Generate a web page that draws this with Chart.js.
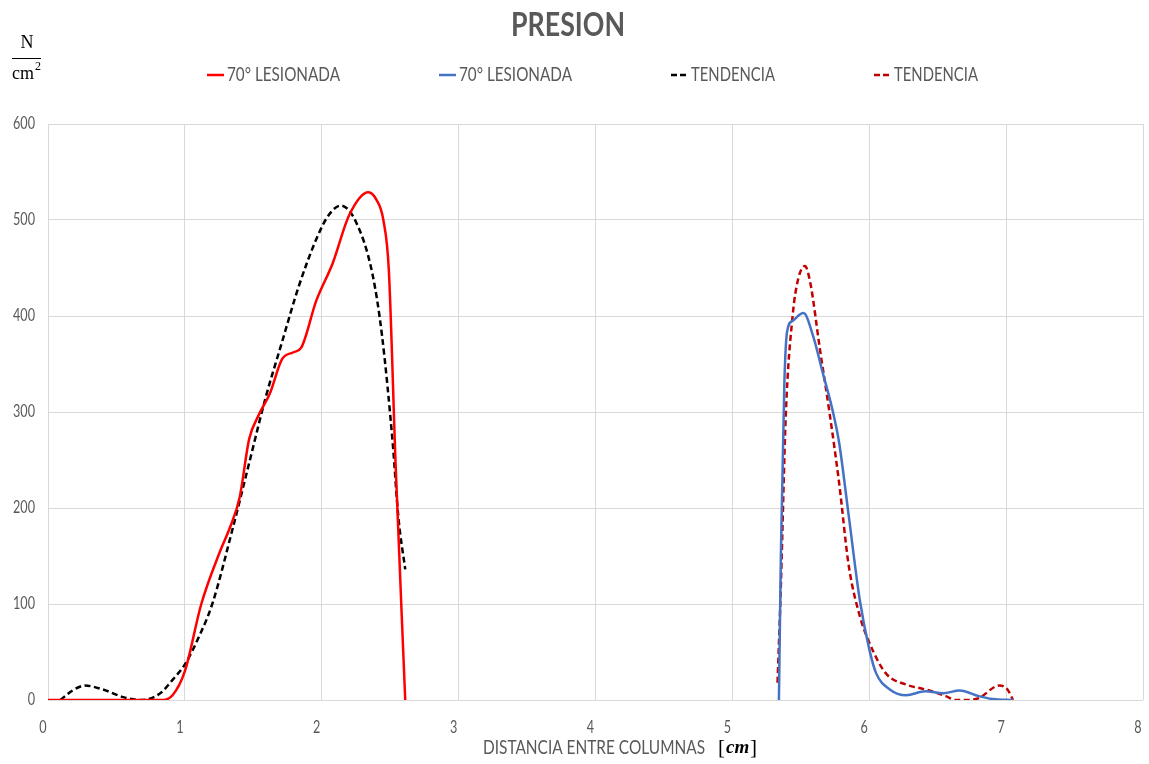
<!DOCTYPE html>
<html>
<head>
<meta charset="utf-8">
<script src="https://cdn.jsdelivr.net/npm/chart.js@4.4.1/dist/chart.umd.min.js"></script>
<style>
body{margin:0;background:#fff;overflow:hidden;}
canvas{display:block;}
</style>
</head>
<body>
<canvas id="graf" width="1149" height="764"></canvas>
<script>
// lesionada 70 - tramo izquierdo
var xLesion1 = [0, 0.4, 0.82, 0.91, 1.0, 1.12, 1.26, 1.33, 1.40, 1.47, 1.54, 1.62, 1.71, 1.79, 1.85, 1.96, 2.08, 2.20, 2.34, 2.40, 2.45, 2.49, 2.54, 2.61];
var yLesion1 = [0, 0, 0, 5, 30, 100, 156, 180, 211, 272, 297, 319, 355, 362, 367, 416, 455, 505, 529, 521, 500, 448, 244, 0];
// tendencia (negra)
var xTend1 = [0.09, 0.18, 0.27, 0.40, 0.55, 0.68, 0.82, 0.91, 1.0, 1.1, 1.2, 1.35, 1.47, 1.59, 1.71, 1.83, 1.96, 2.05, 2.14, 2.25, 2.37, 2.44, 2.52, 2.56, 2.61];
var yTend1 = [0, 10, 15, 11, 3, 0, 7, 21, 37, 65, 100, 179, 247, 315, 373, 430, 480, 505, 515, 498, 444, 380, 265, 190, 136];
// lesionada 70 - tramo derecho (azul)
var xLesion2 = [5.34, 5.355, 5.38, 5.40, 5.44, 5.52, 5.59, 5.66, 5.73, 5.78, 5.85, 5.93, 6.0, 6.05, 6.15, 6.27, 6.41, 6.54, 6.66, 6.80, 6.90, 7.05];
var yLesion2 = [0, 157, 331, 384, 395, 403, 379, 341, 303, 268, 192, 105, 53, 28, 11, 5, 9, 7, 10, 4, 1, 0];
// tendencia (roja punteada)
var xTend2 = [5.33, 5.355, 5.39, 5.44, 5.48, 5.53, 5.57, 5.64, 5.71, 5.78, 5.85, 5.93, 6.0, 6.12, 6.27, 6.41, 6.56, 6.63, 6.72, 6.80, 6.95, 7.01, 7.05];
var yTend2 = [18, 122, 296, 400, 438, 452, 434, 365, 299, 226, 140, 88, 60, 28, 16, 11, 4, 0, 0, 2, 15, 11, 0];

var nombres = ["70° LESIONADA", "70° LESIONADA", "TENDENCIA", "TENDENCIA"];
var colores = ["#ff0000", "#4472c4", "#000000", "#c00000"];
var yTicks = [0, 100, 200, 300, 400, 500, 600];
var xTicks = [0, 1, 2, 3, 4, 5, 6, 7, 8];

var fuente = "Lato, 'Liberation Sans', sans-serif";
var serif = "'Liberation Serif', 'DejaVu Serif', serif";
var gris = "#595959";

function puntos(xs, ys){
    var out = [];
    for(var i=0;i<xs.length;i++){
        out.push({x:xs[i], y:ys[i]});
    }
    return out;
}

function serie(idx, xs, ys, dash){
    return {
        label: nombres[idx],
        data: puntos(xs, ys),
        borderColor: colores[idx],
        backgroundColor: colores[idx],
        borderWidth: 2.5,
        borderDash: dash,
        showLine: true,
        pointRadius: 0,
        cubicInterpolationMode: 'monotone',
        fill: false
    };
}

// texto estrechado horizontalmente (k = factor de ancho)
function texto(ctx, txt, x, y, k, align){
    ctx.save();
    ctx.translate(x, y);
    ctx.scale(k, 1);
    ctx.textAlign = align;
    ctx.fillText(txt, 0, 0);
    ctx.restore();
}

function factor(ctx, txt, ancho){
    return ancho / ctx.measureText(txt).width;
}

var textos = {
    id: 'textos',
    afterDraw: function(chart){
        var ctx = chart.ctx;
        ctx.save();
        ctx.textBaseline = "middle";

        // titulo
        ctx.fillStyle = gris;
        ctx.font = "bold 33px " + fuente;
        texto(ctx, "PRESION", 568, 25, factor(ctx, "PRESION", 114), "center");

        // leyenda
        ctx.font = "20px " + fuente;
        var anchoLey = { "70° LESIONADA": 113, "TENDENCIA": 84 };
        var x = 207;
        var dashes = [[], [], [6,3], [6,3]];
        chart.data.datasets.forEach(function(ds, i){
            ctx.strokeStyle = colores[i];
            ctx.lineWidth = 2.5;
            ctx.setLineDash(dashes[i]);
            ctx.beginPath();
            ctx.moveTo(x, 75);
            ctx.lineTo(x + 17, 75);
            ctx.stroke();
            ctx.setLineDash([]);
            ctx.fillStyle = gris;
            var w = anchoLey[ds.label];
            texto(ctx, ds.label, x + 20, 75, factor(ctx, ds.label, w), "left");
            x += 20 + w + 99;
        });

        // etiquetas de ejes
        var sx = chart.scales.x, sy = chart.scales.y;
        ctx.font = "17px " + fuente;
        var kTick = factor(ctx, "600", 22);
        yTicks.forEach(function(v){
            texto(ctx, String(v), 35, sy.getPixelForValue(v), kTick, "right");
        });
        xTicks.forEach(function(v){
            texto(ctx, String(v), sx.getPixelForValue(v) - 5, 728, kTick, "center");
        });

        // unidades eje y
        ctx.fillStyle = "#000";
        ctx.font = "18px " + serif;
        ctx.textAlign = "center";
        ctx.fillText("N", 27, 43);
        ctx.strokeStyle = "#000";
        ctx.lineWidth = 1;
        ctx.beginPath();
        ctx.moveTo(12, 58.5);
        ctx.lineTo(41, 58.5);
        ctx.stroke();
        ctx.textAlign = "left";
        ctx.fillText("cm", 12, 74);
        var wcm = ctx.measureText("cm").width;
        ctx.font = "12px " + serif;
        ctx.fillText("2", 13 + wcm, 67);

        // titulo eje x
        ctx.fillStyle = gris;
        ctx.font = "20px " + fuente;
        texto(ctx, "DISTANCIA ENTRE COLUMNAS", 483, 748, factor(ctx, "DISTANCIA ENTRE COLUMNAS", 222), "left");
        ctx.fillStyle = "#000";
        ctx.font = "21px " + serif;
        ctx.textAlign = "left";
        ctx.fillText("[", 718, 748);
        ctx.font = "italic bold 19px " + serif;
        ctx.fillText("cm", 726, 748);
        ctx.font = "21px " + serif;
        ctx.fillText("]", 750, 748);
        ctx.restore();
    }
};

var grafico = new Chart(document.getElementById("graf"), {
    type: 'scatter',
    data: {
        datasets: [
            serie(0, xLesion1, yLesion1, []),
            serie(1, xLesion2, yLesion2, []),
            serie(2, xTend1, yTend1, [6,3.5]),
            serie(3, xTend2, yTend2, [6,3.5])
        ]
    },
    options: {
        responsive: false,
        animation: false,
        layout: { padding: { top: 124, right: 6, left: 0, bottom: 0 } },
        plugins: {
            legend: { display: false },
            title: { display: false },
            tooltip: { enabled: false }
        },
        scales: {
            x: {
                type: 'linear',
                min: 0,
                max: 8,
                afterFit: function(s){ s.height = 64; s.paddingLeft = 0; s.paddingRight = 0; },
                afterBuildTicks: function(s){ s.ticks = xTicks.map(function(v){ return {value:v}; }); },
                grid: { color: "#d9d9d9", drawTicks: false },
                border: { display: false },
                ticks: { display: false }
            },
            y: {
                type: 'linear',
                min: 0,
                max: 600,
                afterFit: function(s){ s.width = 48; s.paddingTop = 0; s.paddingBottom = 0; },
                afterBuildTicks: function(s){ s.ticks = yTicks.map(function(v){ return {value:v}; }); },
                grid: { color: "#d9d9d9", drawTicks: false },
                border: { display: false },
                ticks: { display: false }
            }
        }
    },
    plugins: [textos]
});
</script>
</body>
</html>
